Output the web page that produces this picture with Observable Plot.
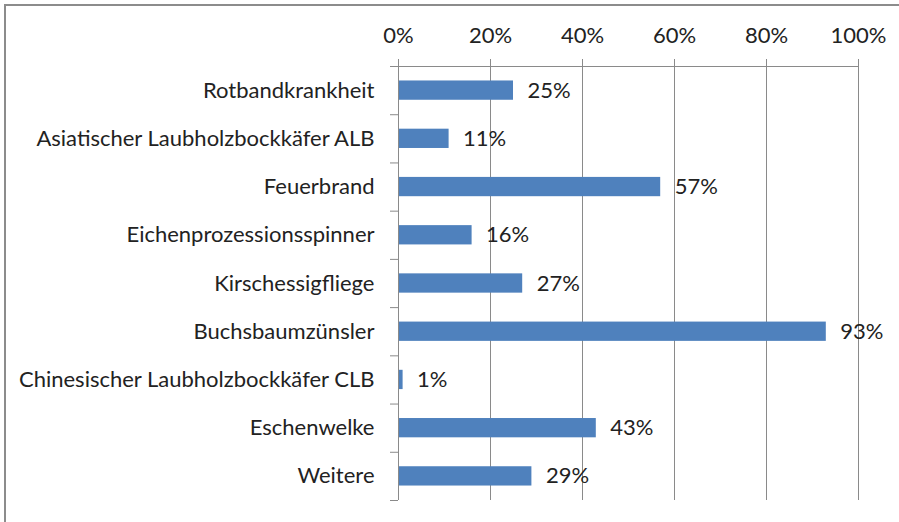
<!DOCTYPE html>
<html>
<head>
<meta charset="utf-8">
<script src="https://cdn.jsdelivr.net/npm/d3@7"></script>
<script src="https://cdn.jsdelivr.net/npm/@observablehq/plot@0.6"></script>
<style>
  html, body { margin: 0; padding: 0; background: #fff; }
  #wrap { position: relative; width: 899px; height: 522px; overflow: hidden; }
  #frame { position: absolute; left: 4px; top: 4px; right: 0; bottom: 0;
           border-left: 2px solid #8c8c8c; border-top: 2px solid #8c8c8c; pointer-events: none; }
  svg { font-family: Lato, "Noto Sans", sans-serif; }
</style>
</head>
<body>
<div id="wrap"><div id="chart"></div><div id="frame"></div></div>
<script>
const categories = [
  "Rotbandkrankheit",
  "Asiatischer Laubholzbockkäfer ALB",
  "Feuerbrand",
  "Eichenprozessionsspinner",
  "Kirschessigfliege",
  "Buchsbaumzünsler",
  "Chinesischer Laubholzbockkäfer CLB",
  "Eschenwelke",
  "Weitere"
];
const values = [25, 11, 57, 16, 27, 93, 1, 43, 29];
const xTicks = [0, 20, 40, 60, 80, 100];

const data = categories.map((c, i) => ({i, name: c, value: values[i]}));
const centers = categories.map((c, i) => i);
const bounds = d3.range(-0.5, categories.length, 1);

const grid = "#8a8a8a";
const fs = 22;
const chart = Plot.plot({
  width: 899,
  height: 522,
  marginLeft: 398,
  marginRight: 41,
  marginTop: 66,
  marginBottom: 22,
  style: {fontFamily: "Lato, 'Noto Sans', sans-serif", fontSize: fs + "px", color: "#222", background: "transparent"},
  x: {domain: [0, 100]},
  y: {domain: [-0.5, categories.length - 0.5], reverse: true},
  marks: [
    Plot.gridX(xTicks, {stroke: grid, strokeOpacity: 1, strokeWidth: 1}),
    Plot.axisX(xTicks, {anchor: "top", tickSize: 8, tickPadding: 16, stroke: grid, strokeOpacity: 1,
      tickFormat: d => d + "%", fontSize: fs, fill: "#222", label: null}),
    Plot.axisY(bounds, {anchor: "left", tickSize: 8, stroke: grid, strokeOpacity: 1, tickFormat: () => "", label: null}),
    Plot.axisY(centers, {anchor: "left", tickSize: 0, tickPadding: 24, tickFormat: i => categories[i],
      fontSize: fs, fill: "#222", label: null}),
    Plot.rect(data, {x1: 0, x2: "value", y1: d => d.i - 0.2, y2: d => d.i + 0.2, fill: "#4F81BD"}),
    Plot.ruleX([0], {stroke: grid, strokeWidth: 1}),
    Plot.ruleY([-0.5], {stroke: grid, strokeWidth: 1}),
    Plot.text(data, {x: "value", y: "i", text: d => d.value + "%", dx: 14, textAnchor: "start",
      fontSize: fs, fill: "#222"})
  ]
});
document.getElementById("chart").appendChild(chart);
</script>
</body>
</html>
